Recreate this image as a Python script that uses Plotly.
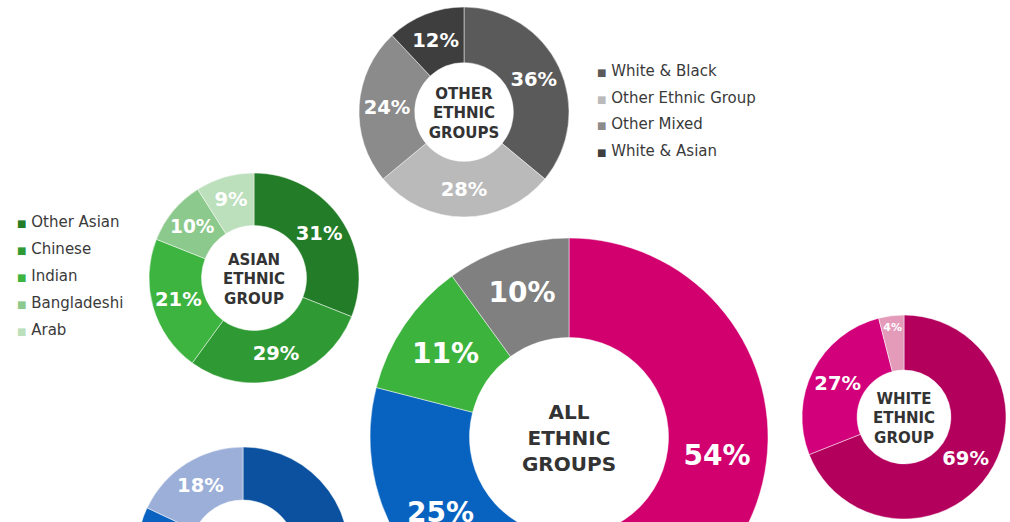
import plotly.graph_objects as go

# ---------------- data ----------------
all_labels = ["White", "Black", "Asian", "Other"]
all_values = [54, 25, 11, 10]
all_colors = ["#d1006e", "#0863c0", "#3cb33c", "#808080"]

other_labels = ["White & Black", "Other Ethnic Group", "Other Mixed", "White & Asian"]
other_values = [36, 28, 24, 12]
other_colors = ["#5a5a5a", "#bababa", "#8b8b8b", "#3e3e3e"]

asian_labels = ["Other Asian", "Chinese", "Indian", "Bangladeshi", "Arab"]
asian_values = [31, 29, 21, 10, 9]
asian_colors = ["#237c27", "#2f9a33", "#3db43f", "#8cc98c", "#bcdfbc"]

white_labels = ["White British", "Other White", "White Irish"]
white_values = [69, 27, 4]
white_colors = ["#b3005d", "#d2007b", "#e49bb9"]

black_labels = ["Black African", "Black Caribbean", "Other Black"]
black_values = [60, 22, 18]
black_colors = ["#0b519f", "#0a63c0", "#9cafd8"]

# ---------------- layout helpers ----------------
W, H = 1010, 680  # page is taller than the window so the lower donuts are cut off
FONT = "DejaVu Sans"

fig = go.Figure()


def add_donut(labels, values, colors, cx, cy, r, hole, tsize, title, tfsize):
    fig.add_trace(go.Pie(
        labels=labels, values=values, sort=False, direction="clockwise", rotation=0,
        hole=hole,
        marker=dict(colors=colors, line=dict(color="rgba(255,255,255,0.6)", width=0.8)),
        texttemplate="%{value}%", textposition="inside", insidetextorientation="horizontal",
        textfont=dict(family=FONT, size=tsize, color="white", weight="bold"),
        title=dict(text=title, position="middle center",
                   font=dict(family=FONT, size=tfsize, color="#333333", weight="bold")),
        domain=dict(x=[(cx - r) / W, (cx + r) / W], y=[1 - (cy + r) / H, 1 - (cy - r) / H]),
        hoverinfo="label+percent",
    ))


add_donut(other_labels, other_values, other_colors, 464, 112, 105, 0.47, 19.5,
          "OTHER<br>ETHNIC<br>GROUPS", 15)
add_donut(asian_labels, asian_values, asian_colors, 254, 278, 105, 0.5, 19.5,
          "ASIAN<br>ETHNIC<br>GROUP", 15)
add_donut(all_labels, all_values, all_colors, 569, 437, 199, 0.5, 28,
          "ALL<br>ETHNIC<br>GROUPS", 20)
add_donut(white_labels, white_values, white_colors, 904, 417, 102, 0.46, 19.5,
          "WHITE<br>ETHNIC<br>GROUP", 15)
add_donut(black_labels, black_values, black_colors, 243, 553, 106, 0.5, 19.5,
          "BLACK<br>ETHNIC<br>GROUP", 15)


def add_legend(labels, colors, x0, y0, dy):
    for i, (lab, col) in enumerate(zip(labels, colors)):
        fig.add_annotation(
            x=x0 / W, y=1 - (y0 + i * dy) / H, xref="paper", yref="paper",
            xanchor="left", yanchor="middle", showarrow=False,
            text=f'<span style="color:{col};font-size:10px">■</span> {lab}',
            font=dict(family=FONT, size=15, color="#3a3a3a"),
        )


add_legend(other_labels, other_colors, 595, 71, 26.7)
add_legend(asian_labels, asian_colors, 15, 222, 27)

fig.update_layout(
    width=W, height=H,
    margin=dict(l=0, r=0, t=0, b=0),
    paper_bgcolor="white", plot_bgcolor="white",
    showlegend=False,
)

fig.write_html(
    "out.html",
    config={"displayModeBar": False},
    post_script="document.body.style.margin='0px';"
                "document.body.style.overflow='hidden';"
                "document.documentElement.style.overflow='hidden';",
)
